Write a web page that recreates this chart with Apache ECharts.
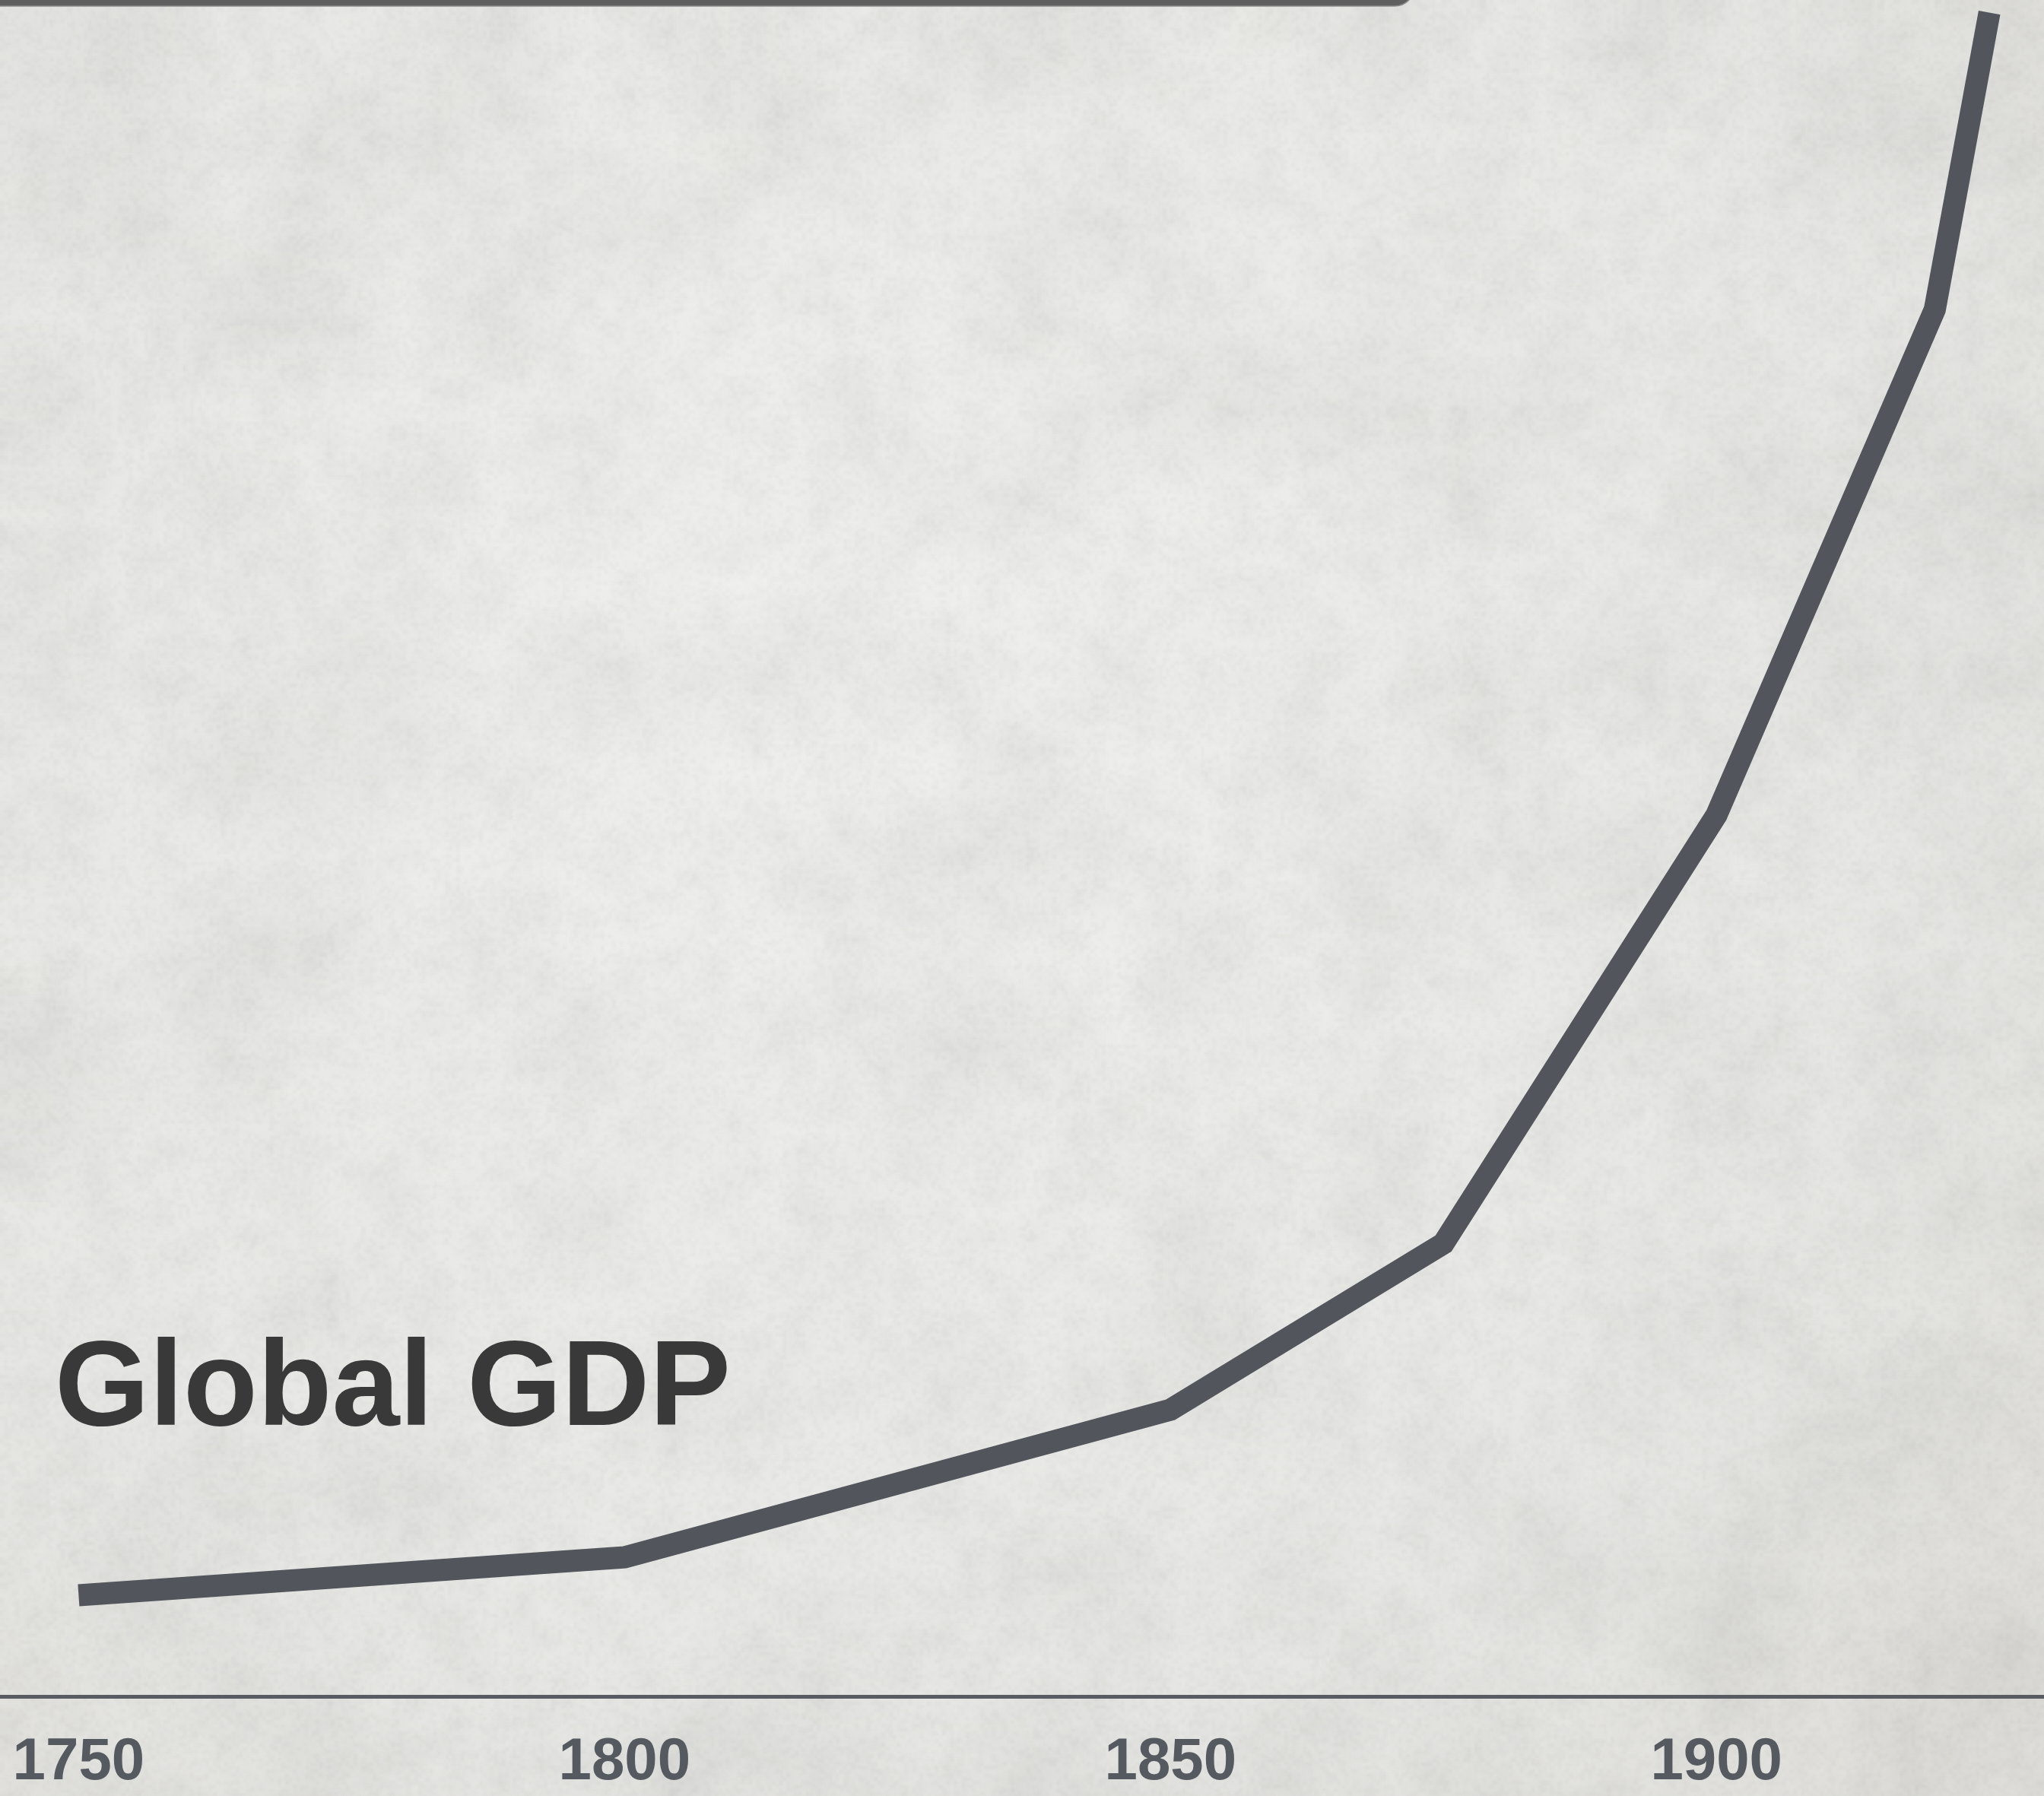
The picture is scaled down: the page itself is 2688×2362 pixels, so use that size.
<!DOCTYPE html>
<html>
<head>
<meta charset="utf-8">
<script src="https://cdn.jsdelivr.net/npm/echarts@6/dist/echarts.min.js"></script>
<style>
  html, body { margin: 0; padding: 0; width: 2688px; height: 2362px; overflow: hidden; background: #e4e4e1; }
  #chart { width: 2688px; height: 2362px; }
</style>
</head>
<body>
<div id="chart"></div>
<script>
// Global GDP, relative index (1925 ≈ 100)
const years = [1750, 1800, 1850, 1875, 1900, 1920, 1925];
const gdpIndex = [5.96, 8.2, 16.9, 26.7, 51.95, 81.76, 99.26];
const yearTicks = [1750, 1800, 1850, 1900];
const titleText = 'Global GDP';

const W = 2688, H = 2362;

// Soft stone-like grain for the backdrop, built from a fixed hash so it is the same on every load
function hash(x, y, s) {
  let h = (x * 374761393 + y * 668265263 + s * 2147483647) | 0;
  h = (h ^ (h >>> 13)) * 1274126177 | 0;
  h = h ^ (h >>> 16);
  return ((h >>> 0) % 1000) / 1000;
}
function noiseLayer(cell, seed) {
  const cw = Math.ceil(W / cell) + 1, ch = Math.ceil(H / cell) + 1;
  const c = document.createElement('canvas');
  c.width = cw; c.height = ch;
  const ctx = c.getContext('2d');
  const img = ctx.createImageData(cw, ch);
  for (let y = 0; y < ch; y++) {
    for (let x = 0; x < cw; x++) {
      const v = hash(x, y, seed);
      const i = (y * cw + x) * 4;
      const g = v < 0.5 ? 90 : 255;
      img.data[i] = g; img.data[i + 1] = g; img.data[i + 2] = g - 6;
      img.data[i + 3] = Math.round(Math.abs(v - 0.5) * 2 * 255);
    }
  }
  ctx.putImageData(img, 0, 0);
  return c;
}
const texture = document.createElement('canvas');
texture.width = W; texture.height = H;
(function () {
  const t = texture.getContext('2d');
  t.imageSmoothingEnabled = true;
  t.globalAlpha = 0.05; t.drawImage(noiseLayer(120, 3), 0, 0, W + 120, H + 120);
  t.globalAlpha = 0.035; t.drawImage(noiseLayer(28, 7), 0, 0, W + 28, H + 28);
  t.globalAlpha = 0.035; t.drawImage(noiseLayer(5, 11), 0, 0, W + 5, H + 5);
})();

const chart = echarts.init(document.getElementById('chart'), null, { renderer: 'canvas' });

const option = {
  animation: false,
  backgroundColor: {
    type: 'radial', x: 0.42, y: 0.38, r: 1.05,
    colorStops: [
      { offset: 0, color: '#efefee' },
      { offset: 0.55, color: '#e6e6e4' },
      { offset: 1, color: '#d7d6d1' }
    ]
  },
  grid: { left: 0, right: 0, top: 0, bottom: 131, containLabel: false },
  xAxis: {
    type: 'value',
    min: 1742.8,
    max: 1930,
    splitLine: { show: false },
    axisTick: { show: false },
    axisLine: { show: true, lineStyle: { color: '#585c62', width: 5 } },
    axisLabel: {
      customValues: yearTicks,
      formatter: v => String(v),
      margin: 48,
      fontSize: 78,
      fontWeight: 'bold',
      fontFamily: 'Liberation Sans',
      color: '#555a61'
    }
  },
  yAxis: { type: 'value', min: 0, max: 100, show: false, splitLine: { show: false } },
  series: [{
    type: 'line',
    data: years.map((y, i) => [y, gdpIndex[i]]),
    showSymbol: false,
    silent: true,
    z: 5,
    lineStyle: { color: '#52565c', width: 29, cap: 'butt', join: 'miter' }
  }],
  graphic: [
    {
      type: 'image',
      silent: true,
      z: -10,
      style: { image: texture, x: 0, y: 0, width: W, height: H }
    },
    {
      type: 'rect',
      z: 10,
      shape: { x: -30, y: -70, width: 1890, height: 78, r: 26 },
      style: { fill: '#5f5f5f', stroke: '#8a8a8a', lineWidth: 1.5 }
    },
    {
      type: 'text',
      z: 10,
      style: {
        x: 72,
        y: 1830,
        text: titleText,
        font: 'bold 160px "Liberation Sans"',
        verticalAlign: 'middle',
        align: 'left',
        fill: '#393939'
      }
    }
  ]
};

chart.setOption(option);
</script>
</body>
</html>
